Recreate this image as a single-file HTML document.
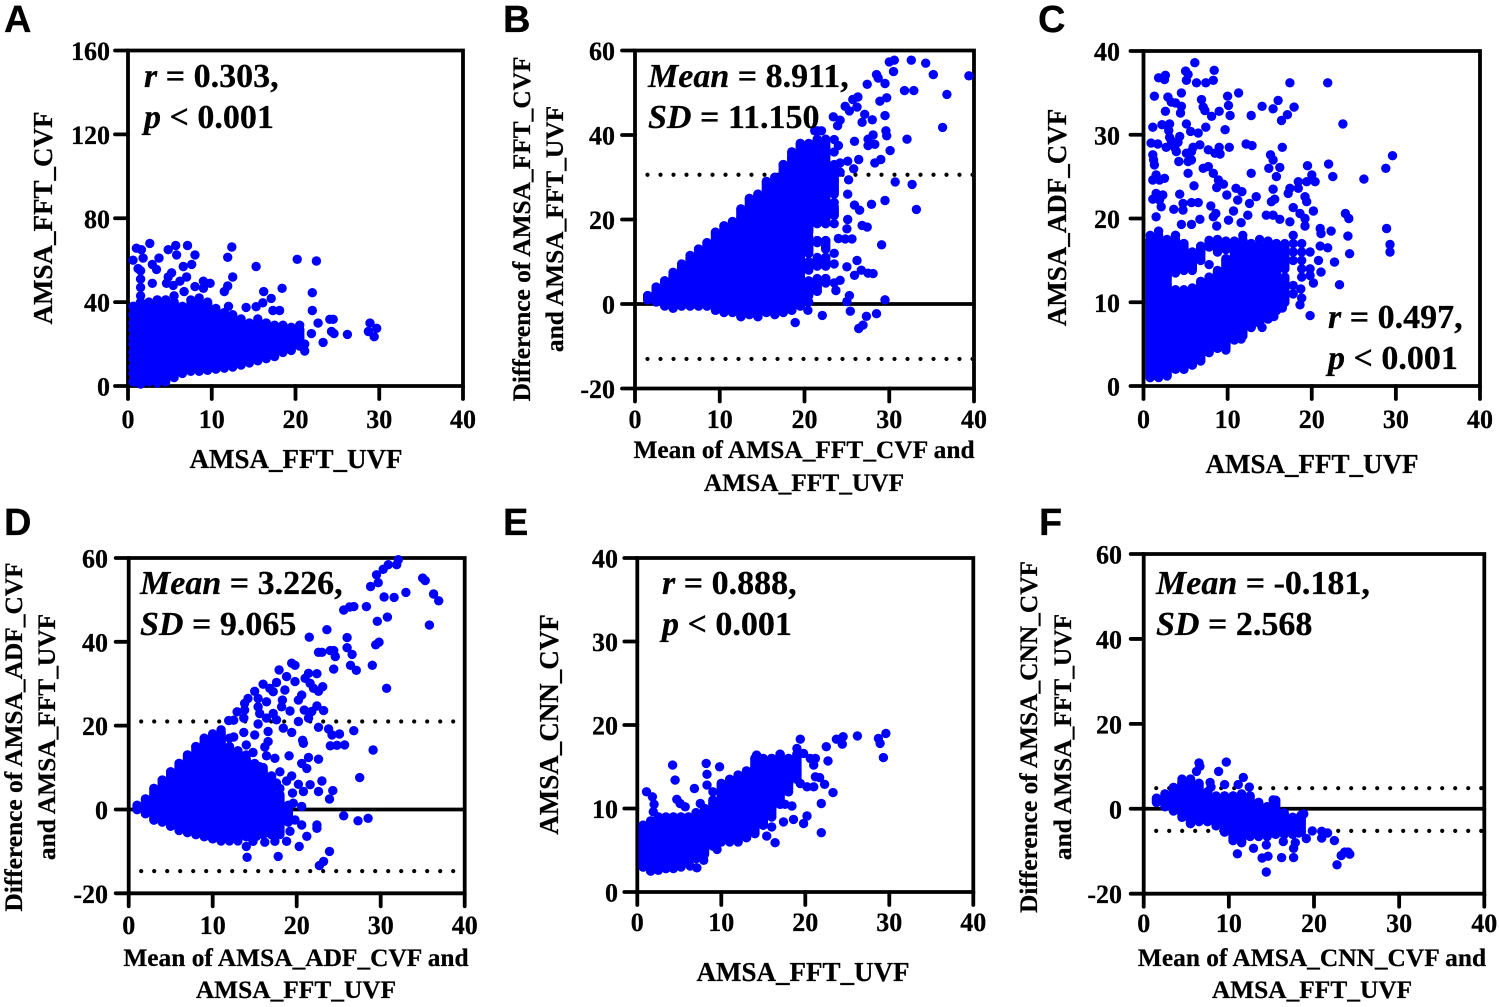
<!DOCTYPE html>
<html lang="en">
<head>
<meta charset="utf-8">
<title>AMSA agreement scatter and Bland-Altman plots</title>
<style>
html,body{margin:0;padding:0;background:#fff}
svg{display:block}
text{font-family:"Liberation Serif",serif;font-weight:bold;fill:#000;stroke:#000;stroke-width:.25px}
.t{font-size:26px}
.s{font-size:27px}
.d{font-size:25.4px}
.n{font-size:34px}
.p{font-family:"Liberation Sans",sans-serif;font-size:38px}
</style>
</head>
<body>
<svg id="chart" xmlns="http://www.w3.org/2000/svg" width="1499" height="1007" viewBox="0 0 1499 1007">
<rect width="1499" height="1007" fill="#fff"/>
<g id="marks"></g>

<text class="p" x="4" y="32">A</text>
<text class="s" x="296" y="468" text-anchor="middle">AMSA_FFT_UVF</text>
<text class="s" transform="translate(52 218) rotate(-90)" text-anchor="middle">AMSA_FFT_CVF</text>
<text class="n" x="144" y="87"><tspan font-style="italic">r</tspan> = 0.303,</text>
<text class="n" x="144" y="128"><tspan font-style="italic">p</tspan> &lt; 0.001</text>

<text class="p" x="503" y="32">B</text>
<text class="d" x="804" y="458" text-anchor="middle">Mean of AMSA_FFT_CVF and</text>
<text class="d" x="804" y="491" text-anchor="middle">AMSA_FFT_UVF</text>
<text class="d" transform="translate(530 229) rotate(-90)" text-anchor="middle">Difference of AMSA_FFT_CVF</text>
<text class="d" transform="translate(563 229) rotate(-90)" text-anchor="middle">and AMSA_FFT_UVF</text>
<text class="n" x="648" y="87"><tspan font-style="italic">Mean</tspan> = 8.911,</text>
<text class="n" x="648" y="128"><tspan font-style="italic">SD</tspan> = 11.150</text>

<text class="p" x="1038" y="32">C</text>
<text class="s" x="1312" y="473" text-anchor="middle">AMSA_FFT_UVF</text>
<text class="s" transform="translate(1066 217.5) rotate(-90)" text-anchor="middle">AMSA_ADF_CVF</text>
<text class="n" x="1328" y="328"><tspan font-style="italic">r</tspan> = 0.497,</text>
<text class="n" x="1328" y="369"><tspan font-style="italic">p</tspan> &lt; 0.001</text>

<text class="p" x="4" y="535">D</text>
<text class="d" x="296" y="966" text-anchor="middle">Mean of AMSA_ADF_CVF and</text>
<text class="d" x="296" y="998" text-anchor="middle">AMSA_FFT_UVF</text>
<text class="d" transform="translate(22 737) rotate(-90)" text-anchor="middle">Difference of AMSA_ADF_CVF</text>
<text class="d" transform="translate(55 737) rotate(-90)" text-anchor="middle">and AMSA_FFT_UVF</text>
<text class="n" x="140" y="594"><tspan font-style="italic">Mean</tspan> = 3.226,</text>
<text class="n" x="140" y="635"><tspan font-style="italic">SD</tspan> = 9.065</text>

<text class="p" x="503" y="535">E</text>
<text class="s" x="803" y="981" text-anchor="middle">AMSA_FFT_UVF</text>
<text class="s" transform="translate(558 724.5) rotate(-90)" text-anchor="middle">AMSA_CNN_CVF</text>
<text class="n" x="662" y="594"><tspan font-style="italic">r</tspan> = 0.888,</text>
<text class="n" x="662" y="635"><tspan font-style="italic">p</tspan> &lt; 0.001</text>

<text class="p" x="1039" y="535">F</text>
<text class="d" x="1312" y="966" text-anchor="middle">Mean of AMSA_CNN_CVF and</text>
<text class="d" x="1312" y="998" text-anchor="middle">AMSA_FFT_UVF</text>
<text class="d" transform="translate(1037 737) rotate(-90)" text-anchor="middle">Difference of AMSA_CNN_CVF</text>
<text class="d" transform="translate(1071 737) rotate(-90)" text-anchor="middle">and AMSA_FFT_UVF</text>
<text class="n" x="1156" y="594"><tspan font-style="italic">Mean</tspan> = -0.181,</text>
<text class="n" x="1156" y="635"><tspan font-style="italic">SD</tspan> = 2.568</text>
</svg>

<script>
// points*: each row is an x value followed by one or more y values read at that x.
// overplot*: where markers saturate into a solid mass and single points cannot be read,
// each row is an x value followed by low,high pairs read from the picture; each pair is
// drawn as one marker-wide band.
const xTickValues = [0, 10, 20, 30, 40];
const yTicksA = [0, 40, 80, 120, 160];
const yTicksDiff = [-20, 0, 20, 40, 60];
const yTicks40 = [0, 10, 20, 30, 40];
const limitsB = [30.6, -13];
const limitsD = [21, -14.7];
const limitsF = [4.85, -5.2];

const overplotA = [
[.8,2,38],[1.5,1,40],[2.5,2,40],[3.5,2,41],[4.5,3,41],[5.5,5,40],[6.5,7,38],[7.5,8,38],[8.5,8.5,40],[9.5,9,40],[10.5,9.5,36],
[11.5,10,34],[12.5,11,33],[13.5,11.5,31],[14.5,12.5,30],[15.5,14,31],[16.5,15,30],[17.5,16,28],[18.5,17,27],[19.5,18,27],[20.5,20,27]
];
const overplotB = [
[1.5,1,2],[2.5,.5,4],[3.5,-.3,5.5],[4.5,-1,7],[5.5,-.5,9],[6.5,-.5,11],[7.5,-.5,13],[8.5,-.5,14.5],[9.5,-1.5,17],[10.5,-2,18.5],[11.5,-2,19.5],
[12.5,-3,22.5],[13.5,-2.5,25],[14.5,-3,26],[15.5,-2,29],[16.5,-2.5,30],[17.5,-2,33],
[18.5,-1.5,36],[19.5,-.5,38],[20.5,2,5,8,10,12,15,17,38],[21.5,3,6,9,11,14.5,15,19,39],[22.5,5,6,9,11,13,15,19,38],[23.5,21,23,26,33]
];
const overplotC = [
[.8,1,17.5],[1.8,1,18],[2.8,1.2,17.5],[3.8,2,11.5,13.5,17.5],[4.8,2,11.5,13.8,17],[5.8,2.5,11.7,13.8,16],[6.8,3,12.5,15,16.7],[7.8,4,13,16.6,17.4],[8.8,4.5,13.8,16,17.5],[9.8,4.5,15.2,16.3,17.3],
[10.8,5.5,17.3],[11.8,6,17.5],[12.8,7,17],[13.8,7.5,16.8],[14.8,8,17.3],[15.8,9,17],[16.8,10,13,14,15.5,16,16.5]
];
const overplotD = [
[1,0,1],[2,-1,2.5],[3,-2.5,5],[4,-3,7],[5,-4,9],[6,-5,11],[7,-5.5,13],[8,-6,15],[9,-6.5,17],[10,-7,18],[11,-7.5,18.5],[12,-7,14.5],
[13,-7,14],[14,-6.5,12],[15,-6,11],[16,-6,10],[17,-6,8],[18,-6,3.5],[19,-3,1]
];
const overplotE = [
[.7,3,8],[1.6,2.5,8.5],[2.5,2.6,9],[3.4,2.8,9],[4.3,2.8,9],[5.2,3,9],[6.1,3.5,9],[7,4,9.5],[8,4.5,10],[9,5.5,11],[10,6,13],[11,6,13.5],
[12,6,14],[13,6.5,14.5],[14,7,16],[15,8,16],[16,9,16],[17,10.5,16.5],[18,12,16],[19,13.5,16.5]
];
const overplotF = [
[1.5,1.5,2.5],[2.5,.5,3.5],[3.5,-.5,5],[4.5,-2,6.5],[5.5,-3.5,7],[6.5,-3,6],[7.5,-3,4],[8.5,-4,3],[9.5,-5.5,3],[10.5,-7.5,3],[11.5,-8,3.5],
[12.5,-6.5,3],[13.5,-6.5,1.5],[14.5,-6.5,.5],[15.5,-6,2],[16.5,-6,-1],[17.5,-6,-2],[18.5,-5.5,-1.5]
];

const pointsA = [
[.6,2,6,9,13,16,20,23,27,30,34,38],[1.5,1,4,8,11,15,18,22,25,29,32,36,39,43,47,51,55],[2.5,2,6,9,13,16,20,23,27,30,34,38],
[3.5,1.5,4,8,11,15,18,22,25,29,32,36,39,41],[4.5,2,6,9,13,16,20,23,27,30,34,38,41],[5.5,4,8,11,15,18,22,25,29,32,36,39,43],
[6.5,6,9,13,16,20,23,27,30,34,37],[7.5,7,11,15,18,22,25,29,32,36,39,41],[8.5,7,9,13,16,20,23,27,30,34,38,42],
[9.5,7.5,11,15,18,22,25,29,32,36,39],[10.5,8,9,13,16,20,23,27,30,34,37],[11.5,8.5,11,15,18,22,25,29,32,35],
[12.5,9,13,16,20,23,27,30,34],[13.5,10,11,15,18,22,25,29,32],[14.5,11,13,16,20,23,27,30],[15.5,12,15,18,22,25,29,32],
[16.5,13,16,20,23,27,30],[17.5,14,18,22,25,29],[18.5,16,20,23,27,29],[19.5,17,22,25,28],[20.5,19,23,27,29],
[2.6,68],[1,65.7],[1.6,65],[.6,60],[1.8,61],[3.7,61],[2.9,58],[3.4,55.6],[1.2,56],[4.8,65],[5.7,67],[5.8,62.5],[7.1,67],[8,62.5],[7.6,58],[6.6,57],[5.2,54],[4.8,52],[7,52],[6.2,50],[4.6,49],[5.4,48],[2.9,49],[6.7,45],[8,47.4],[9,50],[9.8,49],[9,46.6],[11.9,61.4],[12.4,66.3],[12.5,52],[11.9,47.7],[11.5,45],[15.3,57],[20.2,60.4],[22.5,59.6],[18.4,46.6],[16.2,45],[17.1,41.8],[16.1,39.7],[22,44.5],[22,36],[14.1,37.5],[15.3,37.8],[12,38],[17.3,36],[18.1,36],[24.1,31.8],[24.5,31.8],[22.7,30],[28.9,30],[29.7,27.5],[28.7,26],[29.4,23.5],[26.2,24.6],[24.3,26],[24.6,25],[23.3,20.8],[21.9,25],[21.1,16.7],[21.1,20]
];

const pointsB = [
[1.5,1,2],[2.5,.5,2.5,4],[3.5,-.5,1.5,3.5,5.5],[4.5,-1,.5,2.5,4.5,6.5,7.5],[5.5,-.5,1.5,3.5,5.5,7.5,9.5],[6.5,-.5,.5,2.5,4.5,6.5,8.5,10.5,11.5],
[7.5,-.5,1.5,3.5,5.5,7.5,9.5,11.5,13],[8.5,-.5,.5,2.5,4.5,6.5,8.5,10.5,12.5,14.5],[9.5,-1.5,1.5,3.5,5.5,7.5,9.5,11.5,13.5,15.5,17],
[10.5,-2,.5,2.5,4.5,6.5,8.5,10.5,12.5,14.5,16.5,18.5],[11.5,-2,-.5,1.5,3.5,5.5,7.5,9.5,11.5,13.5,15.5,17.5,19.5],
[12.5,-3,.5,2.5,4.5,6.5,8.5,10.5,12.5,14.5,16.5,18.5,20.5,22.5],[13.5,-2.5,-.5,1.5,3.5,5.5,7.5,9.5,11.5,13.5,15.5,17.5,21,23,25],
[14.5,-3,.5,2.5,4.5,6.5,8.5,10.5,12.5,14.5,17,20,22,24,26],[15.5,-2,-.5,1.5,3.5,5.5,7.5,9.5,11.5,13.5,19,21,23,25,27,29],
[16.5,-2.5,.5,2.5,4.5,6.5,8.5,10.5,12.5,14,16,20,22,24,26,28,30],[17.5,-2,-.5,1.5,3.5,5.5,7.5,9.5,11.5,14,21,23,25,27,29,31,33],
[18.5,-1.5,.5,2.5,4.5,6.5,9,12,14,17,20,22.5,24.5,26.5,28.5,30.5,32.5,34.5,36],[19.5,-.5,1.5,3.5,6,8,14,15,18,20,24,26,28,30,32,34,36,38],
[20.5,.5,2.5,5.5,10,13,16,18,20,23,25,27,29,31,33,35,37],[21.5,3,5,9,15,20,22,24,26,28,30,32,34,36,38,41],
[22.5,5,6,9,11,15,19,23,25,27,29,31,33,35,37,39],[23.5,5,9.5,12,19,21,24,27,29,31,36],
[30.6,57.7],[30,57.3],[32.6,57.7],[34.3,57],[35.2,54.3],[39.4,54],[30.5,55],[28.5,54.3],[28.7,53.5],[27.4,52],[29.5,52.2],[31.8,50.5],[32.9,50.5],[36.8,49.6],[26.3,49],[25.7,48.4],[29.7,48.8],[28.9,48],[24.8,46.8],[25.3,45.7],[26.2,46.6],[23.4,44.3],[27.1,44.9],[29.5,44.6],[28,43.6],[26.8,43],[23.9,42.2],[24.2,43.5],[36.3,41.8],[29.6,41],[29.7,39.8],[32.1,39],[22,41],[21.2,41],[28.1,40],[27.5,39],[27.5,37.5],[28.3,37.8],[25.9,38.5],[23.5,38.9],[24,37.5],[30.1,36.3],[26.4,34.2],[29,34.2],[28.3,33.4],[25.1,33.8],[24.2,33.4],[25.8,32],[24.2,31.2],[25.2,29.4],[30.7,28.9],[32.7,28.3],[29.5,24.5],[33.2,22.4],[25.1,26],[27.9,23.6],[25.9,23.4],[26.5,22.2],[25.1,20],[25,17.8],[26.8,18.6],[27.4,18.2],[24,15.5],[25.6,15.4],[24.8,15.4],[29.1,14],[26.2,10.3],[25,8.8],[25.9,6.8],[26.7,8],[27.5,7.3],[28.1,7.2],[24.2,5.6],[23.7,3.2],[25.3,2],[25,.6],[29.5,1],[25.4,-1.7],[22.1,-2.7],[18.9,-4.4],[28.5,-2.3],[27.3,-2.9],[26.9,-5],[26.4,-5.8],[20.4,-1.5]
];

const pointsC = [
[.8,1,2,3,4,5,6,7,8,9,10,11,12,13,14,15,16,17,18],[1.8,1.5,2.5,3.5,4.5,5.5,6.5,7.5,8.5,9.5,10.5,11.5,12.5,13.5,14.5,15.5,16.5,17.5,18.5],
[2.8,1.2,2,3,4,5,6,7,8,9,10,11,12,13,14,15,16,17],[3.8,2.5,3.5,4.5,5.5,6.5,7.5,8.5,9.5,10.5,16,17,18],
[4.8,2,3,4,5,6,7,8,9,10,11,14,15,16,17],[5.8,2.5,3.5,4.5,5.5,6.5,7.5,8.5,9.5,10.5,11.5,14,15],[6.8,3,4,5,6,7,8,9,10,11,16],
[7.8,4,5,6,7,8,9,10,11,12,14.5],[8.8,4.5,5.5,6.5,7.5,8.5,9.5,10.5,11.5,12.5,13.5,17],[9.8,4.5,5,6,7,8,9,10,11,12,13,14,15],
[10.8,5.5,6.5,7.5,8.5,9.5,10.5,11.5,12.5,13.5,14.5,15.5,17],[11.8,6,7,8,9,10,11,12,13,14,15,16,17,18],[12.8,7,8,9,10,11,12,13,14,15,16,17],
[13.8,7.5,8.5,9.5,10.5,11.5,12.5,13.5,14.5,15.5,16.5,17.5],[14.8,8,9,10,11,12,13,14,15,16,17],[15.8,9,10,11,12,14,15,16,17],
[16.8,10,11,12,14,16,17],[17.8,11,12,15,16,17,18],[18.8,13,14,15,16,17],[19.8,14,16],
[6.1,38.6],[8.4,37.7],[5,37.6],[5.3,37.2],[2.6,37.1],[1.8,36.8],[2.5,36.6],[5.1,36.5],[6.3,36.2],[7.4,36.2],[8.3,36.5],[17.4,36.2],[21.9,36.2],[11.3,35],[4.5,35],[1.3,34.6],[2.9,34.5],[10,34.6],[6.9,34.2],[16,34.1],[3.3,33.9],[3.8,33.8],[4.5,33.4],[7.1,33.3],[10.1,33.5],[14.1,33.4],[15.4,33.1],[17.9,33.3],[2.6,32.8],[4.4,32.6],[9,32.8],[7.3,32.9],[8.1,32.2],[10.3,32.3],[12.8,32.3],[17.1,32.4],[16.4,31.7],[3.1,31.3],[2.2,31.2],[5.1,31.3],[23.7,31.3],[1.1,30.9],[7.4,30.9],[9.7,30.6],[3,30.5],[5.6,30.4],[6.5,30.2],[3.1,29.7],[4.3,29.8],[3.3,29.3],[4.1,29.1],[.9,29],[1.7,28.9],[12.2,28.9],[12.9,28.7],[2.7,28.5],[3.7,28.5],[6.7,28.8],[5.9,28.5],[9,28.5],[10.2,28.5],[16.5,28.5],[7.7,28.2],[5.7,28],[3.9,28],[8.5,27.8],[9.1,27.7],[5.1,27.8],[15.1,27.6],[15.4,27],[29.6,27.5],[1.1,27.6],[1.2,27],[1.3,26.4],[4.2,26.8],[5.3,26.8],[5.7,27],[19.5,26.3],[22,26.5],[28.8,26],[7.7,26.2],[7.1,26],[16.2,26.1],[14.9,26],[22.5,25],[20,25.2],[26.2,24.7],[5.3,25.4],[12.8,25.4],[8.3,25.4],[15.8,25],[1.5,25.2],[2.5,24.8],[1.1,24.6],[1.9,24.6],[8.9,24.6],[20.4,24.4],[19.4,24.4],[18.4,24.4],[9.5,24.1],[6,23.9],[8.7,23.7],[11,23.6],[15.4,23.5],[17.4,23.6],[18.4,23.6],[11.7,23.2],[17.2,23],[9.9,22.8],[4.3,22.9],[1.5,23],[2.3,22.8],[13.4,22.6],[1.1,22.3],[15.6,22.3],[19.2,22.6],[11.2,22.2],[15.2,22],[19.4,22],[1.9,22.2],[4.7,21.8],[5.7,21.9],[6.5,21.9],[12.6,21.8],[8,21.5],[17.8,21.3],[2.1,21.4],[3.6,21.1],[4.7,21],[20.2,20.9],[10.7,20.9],[24,20.6],[24.4,20],[8.6,20.6],[12.4,20.4],[14.6,20.4],[15.4,20.4],[18.6,20.6],[8.3,20.2],[1.5,20.2],[6.7,19.9],[10.1,19.8],[16.2,19.9],[17.4,19.6],[19.2,20],[4.5,19.3],[5.7,19.3],[11.6,19.5],[8.7,19.1],[19.2,19.1],[28.9,18.8],[21,18.8],[22.3,18.5],[21.1,18.2],[24.3,17.9],[3.8,18],[29.3,16.9],[29.3,16],[24.5,15.8],[21.9,16.5],[21,16.7],[22.7,14.8],[20.8,15],[21.1,13.6],[23.3,12.1],[20.2,12.3],[19.8,13.2],[18.7,11.6],[18.8,10.5],[18.6,9.7],[19.8,8.4],[16.5,9.3],[15.5,8.3],[14.1,7],[11.6,5.6],[9.8,4.3]
];

const pointsD = [
[1,0,1],[2,-1,1,2.5],[3,-2.5,-.5,1.5,3.5,5],[4,-3,-1,1,3,5,7],[5,-4,-2,0,2,4,6,8,9],[6,-5,-3,-1,1,3,5,7,9,11],[7,-5.5,-4,-2,0,2,4,6,8,10,12,13],
[8,-6,-3,-1,1,3,5,7,9,11,13,15],[9,-6.5,-4,-2,0,2,4,6,8,10,12,14,16,17],[10,-7,-5,-3,-1,1,3,5,7,9,11,13,15,17,18],[11,-7.5,-4,-2,0,2,4,6,8,10,12,14,16,19],
[12,-7.5,-5,-3,-1,1,3,5,7,9,13,15,17],[13,-7.5,-4,-2,0,2,4,6,8,11,14],[14,-6.5,-5,-3,-1,1,3,5,7,9,13],[15,-6,-4,-2,0,2,4,6,8,10],[16,-5,-3,-1,1,3,5,7,9],
[17,-6,-4,-2,0,2,4,6,8],[18,-5,-3,-1,1,3,5],[19,-3,-1,1],
[32.1,59.6],[31.9,58.4],[30.9,58.4],[30.3,57.3],[29.5,56],[29.7,54.1],[28.8,53.2],[35,55.2],[35.3,54.6],[33,51.8],[36.3,51.4],[36.9,49.8],[30.4,50.7],[31.6,50.6],[25.6,47.6],[26.3,48.3],[26.8,48.4],[28.3,48.4],[29.6,44.9],[30.8,45.9],[35.8,44],[23.6,42.9],[21.5,41.1],[26,41],[26,38.6],[29.8,39.9],[29.4,39.3],[22.6,37.5],[23,37.5],[24,37.9],[24.4,37.9],[24.6,36.5],[26.6,37],[19.4,34.9],[19.8,34.4],[26.4,34.4],[29,34.4],[24.4,33.5],[27.1,33.2],[17.9,33.3],[21.4,32.5],[22.4,32.4],[18.8,31.7],[21,31.3],[19.8,30.5],[17.6,30.3],[16,29.9],[21.6,30.1],[23.1,29.3],[30.7,28.9],[22,28.9],[22.6,28.2],[16.8,28.9],[18.6,28.5],[15,28.2],[20.6,27.3],[17.2,28.1],[14.2,26.5],[15.4,26.5],[20.2,26.1],[18.3,26.1],[13.8,25.3],[16.4,25.7],[22.4,24.7],[15.4,24.5],[18.2,24.5],[12.9,23.3],[13.8,23.7],[15.6,22.9],[19.2,23.5],[20.9,23.7],[23.2,23.6],[17.2,22.9],[21.8,23.4],[11.9,21.2],[12.5,21.3],[16.4,21.8],[21.4,21.8],[13.7,21.8],[15.4,20.4],[20.2,21],[17.6,21.4],[22.6,19.6],[23.8,19.2],[26.8,18.8],[18.4,19.4],[19.4,18.4],[16.6,18.6],[24.2,17.8],[25.1,18],[13.7,18.4],[15,17.8],[20.7,16.5],[20.8,15.8],[24,15.2],[24.8,15.3],[25.7,15.4],[12.5,17.3],[16.6,16.2],[16.2,14.9],[29.1,14.2],[14,15.4],[14.8,13.6],[16.4,12.8],[19.1,12.8],[17.4,12.2],[21.4,12.4],[22.6,12],[20.6,11],[21.2,9.8],[15.6,10.2],[18,9],[27.5,7.6],[19.4,8],[23,6.8],[18.8,6.8],[20.2,6],[21.6,5.9],[20.8,4.3],[24.3,4.5],[22.6,4.3],[23.9,2.5],[19.5,3.9],[17.6,6.3],[20.6,.7],[19.6,1.5],[25.6,-1.5],[27.3,-2.7],[28.5,-2.1],[19.8,-2.5],[20.6,-3.7],[22.4,-3.7],[22.4,-4.5],[19.2,-5.2],[21.2,-6.4],[18.8,-7.6],[20.3,-8.8],[23.9,-10],[14.1,-11.4],[17.8,-11.2],[23.2,-12.4],[22.7,-13.4],[14,-8.8],[14.8,-7.6],[16.2,-7.8],[17.4,-7.6],[15.2,-6.4]
];

const pointsE = [
[.7,3,4,5,6,7,8],[1.6,2.5,3.5,4.5,5.5,6.5,7.5,8.5],[2.5,2.7,4,5,6,7,8,9],[3.4,2.8,3.5,4.5,5.5,6.5,7.5,8.5],[4.3,3,4,5,6,7,8,9],[5.2,3.3,4.5,5.5,6.5,7.5,8.5,9],
[6.1,3.5,5,6,7,8,9],[7,4,5.5,6.5,7.5,8.5,9.5],[8,5,6,7,8,9,10],[9,5.5,6.5,7.5,8.5,9.5,10.5,12],[10,6,7,8,9,10,11,12,13],[11,6,7.5,8.5,9.5,10.5,11.5,12.5,13.5],
[12,6,7,8,9,10,11,12,13,14],[13,6.5,7.5,8.5,9.5,10.5,11.5,12.5,13.5,14.5],[14,7,8,9,10,11,12,13,14,15,16],[15,8,9.5,10.5,11.5,12.5,13.5,14.5,15.5],
[16,9,10,11,12,13,14,15,16],[17,10.5,11.5,12.5,13.5,14.5,15.5,16.5],[18,12,13,14,15,16],[19,13.5,14.5,15.5,16.5],
[29.6,19],[28.7,18.4],[28.9,17.8],[29.3,16.1],[26.2,18.7],[24.5,18.6],[23.7,18.3],[24.4,17.7],[19.4,18.3],[22.5,17.4],[22.7,15.7],[23.3,11.9],[21.9,10.6],[22.3,12.9],[21.7,13.7],[21.2,13.8],[21.9,7.1],[19.8,8.2],[20.2,9.1],[18.6,8.7],[17.4,8.4],[18.4,10.3],[17.6,10.5],[16.4,5.9],[15.4,6.7],[16,7.8],[14.2,16.4],[4.2,15.2],[4.5,13.4],[8.2,15.4],[8.3,14.1],[9.8,15],[8.3,12.8],[6.8,12.4],[1.1,12],[1.8,11.4],[4.7,11.1],[2,10.5],[5.1,10.6],[5.7,10.2],[7.5,10.6],[1.9,9.6],[9.5,5.1],[7.9,3.8],[7.1,2.9],[6.3,3.1],[21,15.2],[20.6,16],[21.2,16],[20.2,12.6],[21,12.6],[19.4,13],[19,17.2],[19.8,16.6]
];

const pointsF = [
[1.5,1.5,2.5],[2.5,.5,2,3.5],[3.5,-.5,1,3,5],[4.5,-2,0,2,4,6,7],[5.5,-3.5,-2,0,2,4,6,7],[6.5,-3,-1,1,3,5,6],[7.5,-3,-2,0,2,4],[8.5,-4,-3,-1,1,2.5],
[9.5,-5.5,-4,-2,0,2,3],[10.5,-7.5,-5,-3,-1,1,3],[11.5,-8,-6,-4,-2,0,2,3.5],[12.5,-6.5,-5,-3,-1,1,3],[13.5,-6.5,-4,-2,0,1.5],[14.5,-6.5,-5,-3,-1,.5],
[15.5,-6,-4,-2,0,2],[16.5,-6,-5,-3,-1],[17.5,-6,-4,-2],[18.5,-5.5,-3,-1.5],
[6.5,10.8],[6.6,10],[6.2,8.8],[9.7,11],[8.8,8.8],[11.7,7.4],[9.5,5.7],[11.1,5.7],[12.4,5.1],[7.8,6.2],[7.9,5.1],[11,-10.6],[12.9,-9.3],[13.9,-11.6],[14.6,-11.2],[14.4,-14.9],[16.2,-11.5],[17.6,-11.5],[14.4,-8.5],[17.6,-9.3],[17.8,-8],[16.4,-7.7],[18.8,-1.2],[19.1,-7],[19.8,-5.2],[20.9,-5.3],[21.6,-5.7],[20.9,-6.9],[22.4,-7.5],[22.7,-13.2],[23.2,-11],[23.6,-10.2],[24,-10.2],[24.2,-10.7],[15.2,2.1],[18.2,-5.7]
];

const SVG_NS = 'http://www.w3.org/2000/svg';
const root = document.getElementById('marks');

function make(tag, parent, attrs, text) {
  const el = document.createElementNS(SVG_NS, tag);
  for (const k in attrs) el.setAttribute(k, attrs[k]);
  if (text !== undefined) el.textContent = text;
  parent.appendChild(el);
  return el;
}

function drawPanel(id, box, yTicks, points, overplot, limits) {
  const xMax = xTickValues[xTickValues.length - 1];
  const yMin = yTicks[0];
  const yMax = yTicks[yTicks.length - 1];
  const xScale = v => box.x0 + v / xMax * (box.x1 - box.x0);
  const yScale = v => box.yB + (v - yMin) / (yMax - yMin) * (box.yT - box.yB);

  const g = make('g', root, {});
  
  

  const lineStyle = { stroke: '#000', 'stroke-width': 3.8, 'stroke-linecap': 'round' };

  if (limits) {
    const zero = make('line', g, Object.assign({ x1: box.x0, x2: box.x1, y1: yScale(0), y2: yScale(0) }, lineStyle));
    
    
    limits.forEach(v => {
      const lim = make('line', g, { x1: box.x0 + 12.5, x2: box.x1, y1: yScale(v), y2: yScale(v), stroke: '#000', 'stroke-width': 4.2, 'stroke-linecap': 'round', 'stroke-dasharray': '0 13' });
      
      
    });
  }

  const frame = make('path', g, { d: 'M' + box.x0 + ' ' + box.yT + 'H' + box.x1 + 'V' + box.yB + 'H' + box.x0 + 'Z', fill: 'none', stroke: '#000', 'stroke-width': 3.8 });
  
  

  xTickValues.forEach(v => {
    const tick = make('line', g, Object.assign({ x1: xScale(v), x2: xScale(v), y1: box.yB, y2: box.yB + 13 }, lineStyle));
    
    
    const label = make('text', g, { class: 't', x: xScale(v), y: box.xLabelY, 'text-anchor': 'middle' }, String(v));
    
    
  });

  yTicks.forEach(v => {
    const tick = make('line', g, Object.assign({ x1: box.x0 - 13, x2: box.x0, y1: yScale(v), y2: yScale(v) }, lineStyle));
    
    
    const label = make('text', g, { class: 't', x: box.yLabelX, y: yScale(v) + 9.5, 'text-anchor': 'end' }, String(v));
    
    
  });

  const bands = make('g', g, { stroke: '#0000ff', 'stroke-width': 9.4, 'stroke-linecap': 'round' });
  
  
  overplot.forEach(row => {
    for (let i = 1; i + 1 < row.length; i += 2) {
      const b = make('line', bands, { x1: xScale(row[0]).toFixed(1), x2: xScale(row[0]).toFixed(1), y1: yScale(row[i]).toFixed(1), y2: yScale(row[i + 1]).toFixed(1) });
      
      
    }
  });

  const dots = make('g', g, { fill: '#0000ff' });
  
  
  points.forEach(row => {
    for (let i = 1; i < row.length; i++) {
      const c = make('circle', dots, { cx: xScale(row[0]).toFixed(1), cy: yScale(row[i]).toFixed(1), r: 4.7 });
      
      
    }
  });
}

drawPanel('a', { x0: 128, x1: 463, yT: 50.5, yB: 386, xLabelY: 428, yLabelX: 110 }, yTicksA, pointsA, overplotA, null);
drawPanel('b', { x0: 635, x1: 974, yT: 50.5, yB: 388.5, xLabelY: 428, yLabelX: 615 }, yTicksDiff, pointsB, overplotB, limitsB);
drawPanel('c', { x0: 1143.5, x1: 1480, yT: 51, yB: 386, xLabelY: 428, yLabelX: 1120 }, yTicks40, pointsC, overplotC, null);
drawPanel('d', { x0: 128.7, x1: 464.7, yT: 558, yB: 893.3, xLabelY: 934, yLabelX: 108 }, yTicksDiff, pointsD, overplotD, limitsD);
drawPanel('e', { x0: 637.3, x1: 973.3, yT: 558, yB: 892, xLabelY: 931, yLabelX: 618 }, yTicks40, pointsE, overplotE, null);
drawPanel('f', { x0: 1143.7, x1: 1484.3, yT: 554, yB: 893.7, xLabelY: 932, yLabelX: 1122 }, yTicksDiff, pointsF, overplotF, limitsF);
</script>
</body>
</html>
